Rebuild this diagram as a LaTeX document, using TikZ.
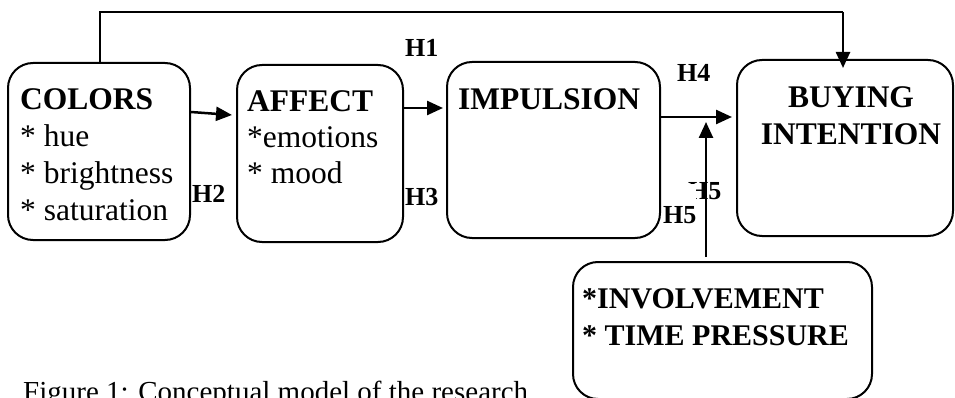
\documentclass[tikz,border=0pt]{standalone}
\usepackage{fontspec}
\setmainfont{Liberation Serif}
\usetikzlibrary{arrows.meta}
\begin{document}
\begin{tikzpicture}[x=1pt,y=-1pt,
  box/.style={draw, line width=2pt, rounded corners=25pt, inner sep=0pt},
  arr/.style={line width=2.5pt, -{Triangle[length=16pt,width=14pt]}},
  conn/.style={line width=2pt},
  lab/.style={font=\fontsize{26}{30}\selectfont\bfseries, inner sep=0pt, anchor=base west},
  big/.style={inner sep=0pt, align=left, anchor=base west}]
\useasboundingbox (0,0) rectangle (955,398);
% labels
\node[lab] (h1) at (405,57) {H1};
\node[lab] (h2) at (192,203) {H2};
\node[lab] (h3) at (405,205) {H3};
\node[lab] (h4) at (677,82) {H4};
\node[lab] (h5a) at (688,200) {H5};
\node[lab, fill=white, text height=39pt] (h5b) at (663,223) {H5\hspace{5pt}};
% boxes
\node[box, minimum width=182pt, minimum height=177pt] (colors) at (99,151.5) {};
\node[box, minimum width=166pt, minimum height=177pt] (affect) at (320,153.5) {};
\node[box, minimum width=213pt, minimum height=176pt] (impulsion) at (553.5,150) {};
\node[box, minimum width=216pt, minimum height=176pt] (buying) at (845,148) {};
\node[box, minimum width=299pt, minimum height=137pt] (invol) at (722.5,330.5) {};
% texts
\node[big, font=\fontsize{31.5}{36.7}\selectfont] (tcolors) at (20,220)
  {\textbf{COLORS}\\{*} hue\\{*} brightness\\{*} saturation};
\node[big, font=\fontsize{31.5}{36}\selectfont] (taffect) at (247,184)
  {\textbf{AFFECT}\\{*}emotions\\{*} mood};
\node[big, font=\fontsize{31.5}{36}\selectfont\bfseries] (timp) at (458,110) {IMPULSION};
\node[inner sep=0pt, align=center, anchor=base, font=\fontsize{31.5}{37}\selectfont\bfseries] (tbuy) at (851,145)
  {BUYING\\INTENTION};
\node[big, font=\fontsize{30}{37}\selectfont\bfseries] (tinv) at (582,345)
  {{*}INVOLVEMENT\\{*} TIME PRESSURE};
\node[inner sep=0pt, anchor=base west, font=\fontsize{29}{33}\selectfont] (caption) at (23,401)
  {Figure 1: Conceptual model of the research};
% connectors
\coordinate (tl) at (100,12);
\coordinate (tr) at (843,12);
\coordinate (m) at (706,122);
\draw[conn] (colors.north -| tl) -- (tl) -- (tr);
\draw[arr, shorten >=-9pt] (tr) -- (buying.north -| tr);
\draw[arr] (colors.east |- 0,112) -- ([xshift=-4pt]affect.west |- 0,115);
\draw[arr] (affect.east |- 0,108) -- ([xshift=-3pt]impulsion.west |- 0,108);
\draw[arr] (impulsion.east |- 0,117) -- ([xshift=-4pt]buying.west |- 0,117);
\draw[arr] ([yshift=4pt]invol.north -| m) -- (m);
\end{tikzpicture}
\end{document}
